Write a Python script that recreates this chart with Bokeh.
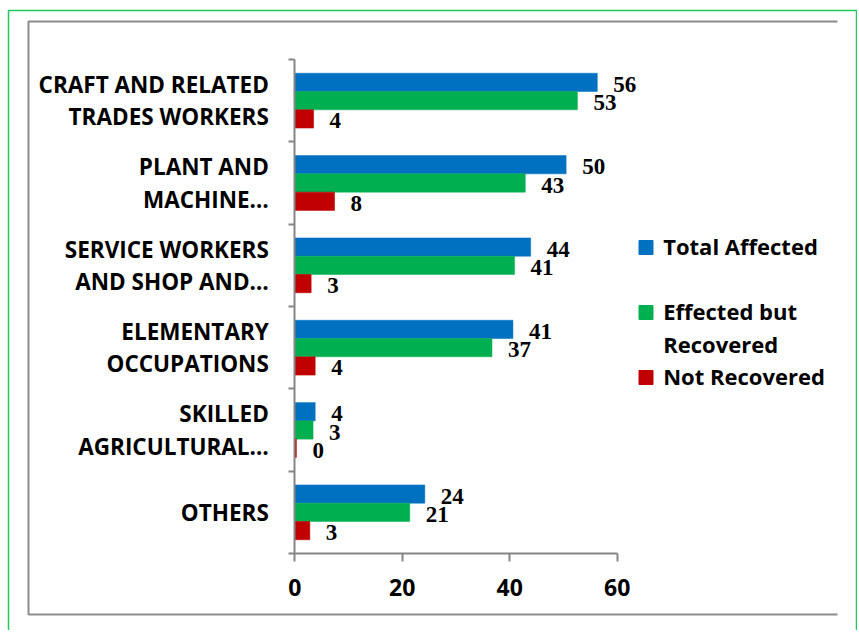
from bokeh.plotting import figure
from bokeh.models import Range1d, FixedTicker, ColumnDataSource
from bokeh.embed import file_html
from bokeh.resources import INLINE
from bokeh.core.properties import value

# ---------------- data ----------------
categories = ["CRAFT AND RELATED\nTRADES WORKERS", "PLANT AND\nMACHINE\u2026",
              "SERVICE WORKERS\nAND SHOP AND\u2026", "ELEMENTARY\nOCCUPATIONS",
              "SKILLED\nAGRICULTURAL\u2026", "OTHERS"]
series_names = ["Total Affected", "Effected but\nRecovered", "Not Recovered"]
total_affected = [56.3, 50.5, 43.9, 40.6, 3.8, 24.2]
recovered = [52.6, 42.9, 40.9, 36.7, 3.4, 21.4]
not_recovered = [3.5, 7.4, 3.05, 3.8, 0.3, 2.8]
total_labels = [56, 50, 44, 41, 4, 24]
recovered_labels = [53, 43, 41, 37, 3, 21]
not_recovered_labels = [4, 8, 3, 4, 0, 3]
x_ticks = [0, 20, 40, 60]
colors = ["#0070C0", "#00B050", "#C00000"]

LABEL_FONT = "Open Sans"
AXIS_GRAY = "#868686"

# ---------------- layout geometry (pixels on the canvas) ----------------
W, H = 857, 630
AX_X0 = 294.3          # pixel of x = 0
PX_PER_X = 5.373       # pixels per x unit
AX_TOP, AX_BOT = 59.0, 553.0

n = len(categories)
PX_PER_Y = (AX_BOT - AX_TOP) / n


def dx(px):
    return (px - AX_X0) / PX_PER_X


def dy(py):
    return (n - 0.5) - (py - AX_TOP) / PX_PER_Y


centers = [n - 1 - i for i in range(n)]          # top category highest
bar_h = 0.222
offsets = [bar_h, 0.0, -bar_h]

p = figure(width=W, height=H, output_backend="svg", toolbar_location=None,
           x_range=Range1d(dx(0), dx(W)), y_range=Range1d(dy(H), dy(0)),
           min_border_left=0, min_border_right=0, min_border_top=0,
           min_border_bottom=0)
p.outline_line_color = None
p.grid.visible = False
p.background_fill_color = "white"
p.border_fill_color = "white"

# decorative frames: gray plot-area box (open on the right) and green outer border
p.line(x=[dx(837), dx(28), dx(28), dx(837)], y=[dy(21), dy(21), dy(614), dy(614)],
       line_color="#8C8C8C", line_width=2)
p.line(x=[dx(8), dx(8), dx(856), dx(856)], y=[dy(H + 20), dy(10), dy(10), dy(H + 20)],
       line_color="#22C75E", line_width=1.5)

all_vals = [total_affected, recovered, not_recovered]
all_labs = [total_labels, recovered_labels, not_recovered_labels]
for vals, labs, off, col in zip(all_vals, all_labs, offsets, colors):
    src = ColumnDataSource(dict(y=[c + off for c in centers], right=vals,
                                lab=[str(v) for v in labs]))
    p.hbar(y="y", right="right", left=0, height=bar_h, source=src,
           fill_color=col, line_color=col, line_width=0.5)
    p.text(x="right", y="y", text="lab", source=src, x_offset=16, y_offset=2,
           text_font=value("Liberation Serif"), text_font_style="bold",
           text_font_size="23px", text_baseline="middle", text_align="left",
           text_color="black")

# x axis (placed at the bottom of the category band)
xa = p.xaxis[0]
xa.fixed_location = -0.5
xa.ticker = FixedTicker(ticks=x_ticks)
xa.bounds = (x_ticks[0], x_ticks[-1])
xa.axis_line_color = AXIS_GRAY
xa.axis_line_width = 2
xa.major_tick_line_color = AXIS_GRAY
xa.major_tick_line_width = 2
xa.major_tick_in = 0
xa.major_tick_out = 8
xa.minor_tick_line_color = None
xa.major_label_standoff = 17
xa.major_label_text_font = LABEL_FONT
xa.major_label_text_font_style = "bold"
xa.major_label_text_font_size = "23px"
xa.major_label_text_color = "black"

# y axis (placed at x = 0)
ya = p.yaxis[0]
ya.fixed_location = 0
ya.bounds = (-0.5, n - 0.5)
ya.ticker = FixedTicker(ticks=centers, minor_ticks=[c - 0.5 for c in range(n + 1)])
ya.major_label_overrides = {c: lab for c, lab in zip(centers, categories)}
ya.axis_line_color = AXIS_GRAY
ya.axis_line_width = 2
ya.major_tick_line_color = None
ya.major_tick_in = 0
ya.major_tick_out = 0
ya.minor_tick_line_color = AXIS_GRAY
ya.minor_tick_line_width = 2
ya.minor_tick_in = 0
ya.minor_tick_out = 6
ya.major_label_standoff = 20
ya.major_label_text_font = LABEL_FONT
ya.major_label_text_font_style = "bold"
ya.major_label_text_font_size = "22.5px"
ya.major_label_text_color = "black"
ya.major_label_text_line_height = 1.05

# legend (drawn right of the bars)
leg_x_box = dx(645.5)
leg_x_text = dx(662.7)
leg_y_box = [dy(247), dy(312), dy(377)]
leg_y_text = [dy(245), dy(326.5), dy(375)]
p.scatter(x=[leg_x_box] * 3, y=leg_y_box, marker="square", size=14,
          fill_color=colors, line_color=colors)
p.text(x=[leg_x_text] * 3, y=leg_y_text, text=series_names,
       text_font=value(LABEL_FONT), text_font_style="bold", text_font_size="22px",
       text_baseline="middle", text_align="left", text_color="black",
       text_line_height=1.1)

open("out.html", "w").write(file_html(p, INLINE))
